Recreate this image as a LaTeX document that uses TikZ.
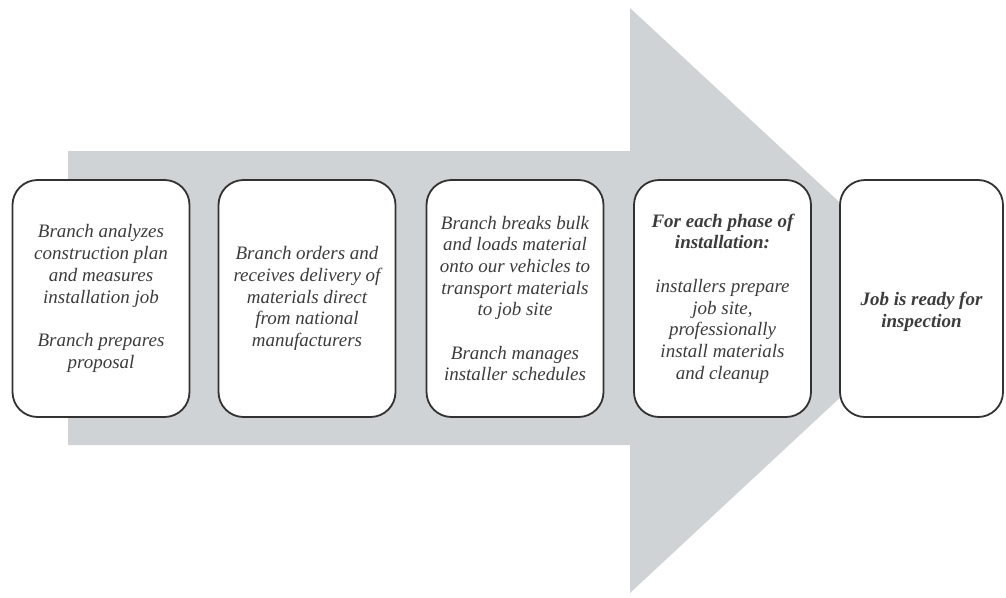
\documentclass[tikz,border=0pt]{standalone}
\usepackage{fontspec}
\setmainfont{Liberation Serif}
\definecolor{arrowgray}{RGB}{208,211,214}
\definecolor{boxline}{RGB}{50,50,50}
\definecolor{txt}{RGB}{60,60,60}
\begin{document}
\begin{tikzpicture}[x=1pt,y=-1pt,
  stepbox/.style={draw=boxline, line width=1.8pt, fill=white, rounded corners=25pt,
    minimum width=177pt, minimum height=237pt, inner sep=0pt,
    align=center, text=txt, font=\itshape\fontsize{19}{21.7}\selectfont},
  steptext/.style={align=center, text=txt, inner sep=0pt, font=\itshape\fontsize{19}{21.7}\selectfont}]
\useasboundingbox (0,0) rectangle (1006,597);
\fill[arrowgray] (68,151) -- (630,151) -- (630,8) -- (945,300) -- (630,593) -- (630,445) -- (68,445) -- cycle;
\node[stepbox] (b1) at (101,298.5) {Branch analyzes\\construction plan\\and measures\\installation job\\[21.7pt]Branch prepares\\proposal};
\node[stepbox] (b2) at (307,298.5) {Branch orders and\\receives delivery of\\materials direct\\from national\\manufacturers};
\node[stepbox] (b3) at (515,298.5) {Branch breaks bulk\\and loads material\\onto our vehicles to\\transport materials\\to job site\\[21.7pt]Branch manages\\installer schedules};
\node[stepbox] (b4) at (722.5,298.5) {\textbf{For each phase of}\\\textbf{installation:}\\[21.7pt]installers prepare\\job site,\\professionally\\install materials\\and cleanup};
\node[stepbox, minimum width=163pt] (b5) at (921.5,298.5) {};
\node[steptext] (t5) at ([yshift=-13pt]b5.center) {\textbf{Job is ready for}\\\textbf{inspection}};
\end{tikzpicture}
\end{document}
